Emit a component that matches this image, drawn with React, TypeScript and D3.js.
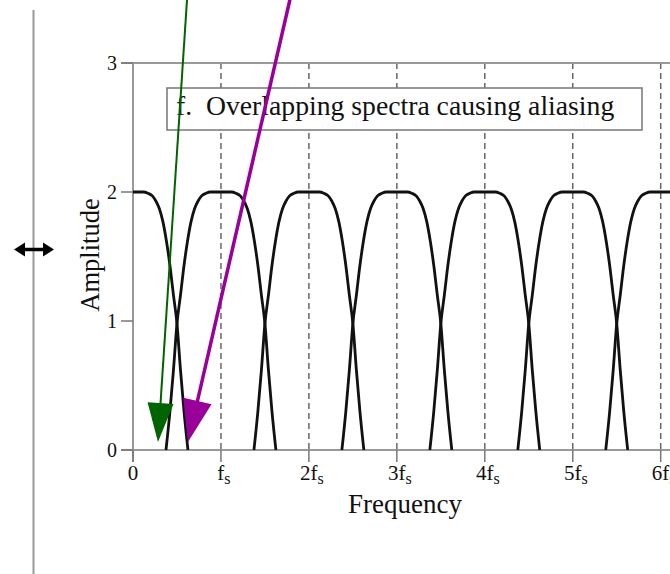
import React from "react";
import * as d3 from "d3";

// ---- data ----
const harmonics = [0, 1, 2, 3, 4, 5, 6, 7];
const xTickValues = [0, 1, 2, 3, 4, 5, 6];
const xTickPrefix = ["0", "f", "2f", "3f", "4f", "5f", "6f"];
const xTickSub = ["", "s", "s", "s", "s", "s", "s"];
const yTickValues = [0, 1, 2, 3];
// half-shape of one spectrum (offset from centre in units of fs, amplitude)
const shapeOffsets = [0, 0.12, 0.17, 0.22, 0.26, 0.3, 0.34, 0.38, 0.42, 0.46, 0.5, 0.54, 0.58, 0.625];
const shapeAmps = [2.0, 2.0, 1.99, 1.97, 1.93, 1.87, 1.77, 1.62, 1.43, 1.2, 0.98, 0.62, 0.3, 0.0];
// annotation arrows (data coords): [x0, y0, x1, y1]
const greenArrow = [0.614, 3.49, 0.284, 0.062];
const purpleArrow = [1.784, 3.49, 0.625, 0.062];
const legendText = "f.  Overlapping spectra causing aliasing";
const xTitle = "Frequency";
const yTitle = "Amplitude";

const W = 670;
const H = 574;
const x = d3.scaleLinear().domain([0, 7]).range([133, 133 + 7 * 87.95]);
const y = d3.scaleLinear().domain([0, 3]).range([450, 63]);

const serif = "'Liberation Serif', 'Times New Roman', serif";

function arrowHead(x0: number, y0: number, x1: number, y1: number, len: number, half: number) {
  const dx = x1 - x0, dy = y1 - y0;
  const L = Math.hypot(dx, dy);
  const ux = dx / L, uy = dy / L;
  const bx = x1 - ux * len, by = y1 - uy * len;
  const px = -uy, py = ux;
  return `M${x1},${y1}L${bx + px * half},${by + py * half}L${bx - px * half},${by - py * half}Z`;
}

export default function App() {
  const half = shapeOffsets.map((o, i) => [o, shapeAmps[i]] as [number, number]);
  const full: [number, number][] = [
    ...half.slice(1).reverse().map(([o, a]) => [-o, a] as [number, number]),
    ...half,
  ];
  const line = d3
    .line<[number, number]>()
    .x((d) => d[0])
    .y((d) => d[1])
    .curve(d3.curveMonotoneX);

  const spectra = harmonics.map((k) =>
    line(full.map(([o, a]) => [x(k + o), y(a)] as [number, number]))
  );

  const [gx0, gy0, gx1, gy1] = [x(greenArrow[0]), y(greenArrow[1]), x(greenArrow[2]), y(greenArrow[3])];
  const [px0, py0, px1, py1] = [x(purpleArrow[0]), y(purpleArrow[1]), x(purpleArrow[2]), y(purpleArrow[3])];
  const gLen = 39, pLen = 42;
  const gL = Math.hypot(gx1 - gx0, gy1 - gy0);
  const pL = Math.hypot(px1 - px0, py1 - py0);

  return (
    <svg width={W} height={H} style={{ position: "absolute", left: 0, top: 0, background: "#fff" }}>
      <defs>
        <clipPath id="plotClip">
          <rect x={x(0)} y={y(3)} width={W - x(0)} height={y(0) - y(3)} />
        </clipPath>
      </defs>
      <rect width={W} height={H} fill="#fff" />

      {/* left page divider and resize arrow */}
      <line x1={33.5} x2={33.5} y1={10} y2={H} stroke="#999" strokeWidth={2} />
      <line x1={20} x2={48} y1={249.5} y2={249.5} stroke="#000" strokeWidth={3.5} />
      <path d="M14,249.5L25,242.5L25,256.5Z" fill="#000" />
      <path d="M54,249.5L43,242.5L43,256.5Z" fill="#000" />

      {/* dashed guide lines */}
      {xTickValues.filter((v) => v > 0).map((v) => (
        <line key={v} x1={x(v)} x2={x(v)} y1={y(3)} y2={y(0)} stroke="#666" strokeWidth={1.5} strokeDasharray="6 4" />
      ))}

      {/* frame */}
      <line x1={121} x2={W} y1={y(3)} y2={y(3)} stroke="#999" strokeWidth={2} />
      <line x1={121} x2={W} y1={y(0)} y2={y(0)} stroke="#999" strokeWidth={2} />
      <line x1={x(0)} x2={x(0)} y1={y(3)} y2={y(0) + 12} stroke="#999" strokeWidth={2} />

      {/* y ticks */}
      {yTickValues.map((v) => (
        <g key={v}>
          <line x1={121} x2={x(0)} y1={y(v)} y2={y(v)} stroke="#777" strokeWidth={1.5} />
          <text x={117} y={y(v) + 7} textAnchor="end" fontFamily={serif} fontSize={20} fill="#111">
            {v}
          </text>
        </g>
      ))}

      {/* x ticks */}
      {xTickValues.map((v, i) => (
        <g key={v}>
          <line x1={x(v)} x2={x(v)} y1={y(0)} y2={y(0) + 12} stroke="#777" strokeWidth={1.5} />
          <text x={x(v) + (i > 0 ? 3 : 0)} y={480} textAnchor="middle" fontFamily={serif} fontSize={21} fill="#111">
            {xTickPrefix[i]}
            {xTickSub[i] && (
              <tspan dy={4} fontSize={16}>
                {xTickSub[i]}
              </tspan>
            )}
          </text>
        </g>
      ))}

      {/* axis titles */}
      <text x={405} y={513} textAnchor="middle" fontFamily={serif} fontSize={27} fill="#111">
        {xTitle}
      </text>
      <text
        transform={`translate(99,255) rotate(-90)`}
        textAnchor="middle"
        fontFamily={serif}
        fontSize={26.5}
        fill="#111"
      >
        {yTitle}
      </text>

      {/* legend box */}
      <rect x={167} y={88} width={475} height={42} fill="#fff" stroke="#777" strokeWidth={1.5} />
      <text x={176} y={115} fontFamily={serif} fontSize={27.7} fill="#111" style={{ whiteSpace: "pre" }}>
        {legendText}
      </text>

      {/* spectra */}
      <g clipPath="url(#plotClip)">
        {spectra.map((d, i) => (
          <path key={i} d={d || ""} fill="none" stroke="#111" strokeWidth={2.8} />
        ))}
      </g>

      {/* annotation arrows */}
      <line
        x1={gx0}
        y1={gy0}
        x2={gx1 - ((gx1 - gx0) / gL) * (gLen - 2)}
        y2={gy1 - ((gy1 - gy0) / gL) * (gLen - 2)}
        stroke="#006400"
        strokeWidth={2}
      />
      <path d={arrowHead(gx0, gy0, gx1, gy1, gLen, 13)} fill="#006400" />
      <line
        x1={px0}
        y1={py0}
        x2={px1 - ((px1 - px0) / pL) * (pLen - 2)}
        y2={py1 - ((py1 - py0) / pL) * (pLen - 2)}
        stroke="#990099"
        strokeWidth={3.5}
      />
      <path d={arrowHead(px0, py0, px1, py1, pLen, 14.5)} fill="#990099" />
    </svg>
  );
}
